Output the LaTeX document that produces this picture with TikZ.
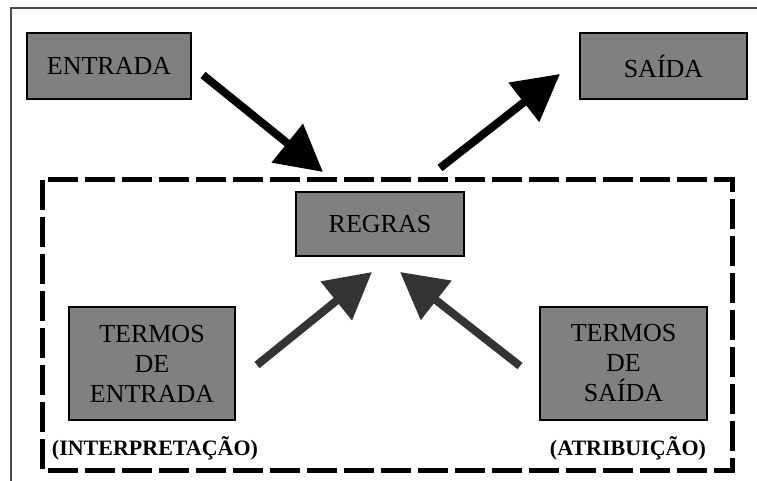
\documentclass[tikz,border=0pt]{standalone}
\usepackage{fontspec}
\setmainfont{Liberation Serif}
\usepackage{xcolor}
\usepackage{tikz}
\usetikzlibrary{arrows.meta}

\definecolor{boxgray}{HTML}{808080}
\definecolor{darkarrow}{HTML}{333333}

\tikzset{
  graybox/.style={draw=black, line width=1.5pt, fill=boxgray, inner sep=0pt,
    font=\fontsize{26}{30}\selectfont, align=center},
  bigarrow/.style={line width=8pt, -{Triangle[length=46pt,width=48pt]}},
  notelabel/.style={font=\fontsize{22}{24}\selectfont\bfseries, inner sep=0pt}
}

\begin{document}
\begin{tikzpicture}[x=1pt,y=-1pt]

\useasboundingbox (0,0) rectangle (757,481);
\fill[white] (0,0) rectangle (757,481);

% =====================
% Outer frame (cut at right and bottom)
% =====================
\draw[line width=2pt, black!70] (11,481) -- (11,8) -- (757,8);

% =====================
% Dashed system boundary
% =====================
\draw[line width=5pt, dash pattern=on 30pt off 7pt] (42,180) rectangle (732,470);

% =====================
% Input and output blocks
% =====================
\node[graybox, minimum width=164pt, minimum height=66pt] (entrada) at (109,66) {ENTRADA};
\node[graybox, minimum width=167pt, minimum height=66pt] (saida) at (663.5,66) {SAÍDA};

% =====================
% Rules block
% =====================
\node[graybox, minimum width=168pt, minimum height=64pt] (regras) at (380,224) {REGRAS};

% =====================
% Term blocks
% =====================
\node[graybox, minimum width=166pt, minimum height=113pt] (termosE) at (152,363.5) {TERMOS\\DE\\ENTRADA};
\node[graybox, minimum width=167pt, minimum height=113pt] (termosS) at (623.5,363.5) {TERMOS\\DE\\SAÍDA};

\node[notelabel] (interp) at (155,448) {(INTERPRETAÇÃO)};
\node[notelabel] (atrib) at (628,448) {(ATRIBUIÇÃO)};

% =====================
% Arrow end points
% =====================
\coordinate (inA) at (203,75);
\coordinate (inB) at (323,172);
\coordinate (outA) at (440,168);
\coordinate (outB) at (560,74);
\coordinate (teA) at (257,365);
\coordinate (teB) at (372,272);
\coordinate (tsA) at (520,366);
\coordinate (tsB) at (400,272);

% =====================
% Arrows
% =====================
\draw[bigarrow, black] (inA) -- (inB);
\draw[bigarrow, black] (outA) -- (outB);
\draw[bigarrow, darkarrow] (teA) -- (teB);
\draw[bigarrow, darkarrow] (tsA) -- (tsB);

\end{tikzpicture}
\end{document}
